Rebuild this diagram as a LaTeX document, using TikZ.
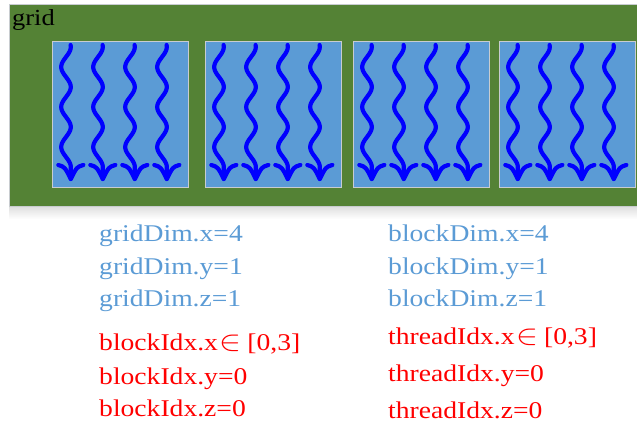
\documentclass[tikz,border=0pt]{standalone}
\usepackage{fontspec}
\setmainfont{Liberation Serif}
\definecolor{gridgreen}{HTML}{548235}
\definecolor{blockblue}{HTML}{5B9BD5}
\definecolor{threadblue}{HTML}{0000FF}
\definecolor{edgegray}{HTML}{C8CCD0}
\definecolor{dimblue}{HTML}{5B9BD5}
\definecolor{idxred}{HTML}{FF0000}
\tikzset{
  gridbox/.style={draw=edgegray, line width=1pt, fill=gridgreen},
  blockbox/.style={draw=edgegray, line width=1.2pt, fill=blockblue},
  thread/.style={draw=threadblue, line width=4.2pt, line cap=round, line join=round},
  dimtext/.style={anchor=base west, inner sep=0pt, text=dimblue, font=\fontsize{24}{28}\selectfont},
  idxtext/.style={anchor=base west, inner sep=0pt, text=idxred, font=\fontsize{24}{28}\selectfont},
  gridlabel/.style={anchor=base west, inner sep=0pt, text=black, font=\fontsize{23}{27}\selectfont},
}
% one wavy thread with its arrow head; #1 = shaft centre x
\newcommand{\threadarrow}[1]{%
  \draw[thread] plot[domain=45:167, samples=60, smooth] ({#1+4.8*cos(9*(\x-87))}, \x)
    -- ({#1+4.8}, 179);
  \draw[thread] ({#1+4.8-12.5}, 165) .. controls ({#1+4.8-6}, 167) .. ({#1+4.8}, 179)
    .. controls ({#1+4.8+6}, 167) .. ({#1+4.8+12.5}, 165);
}
\newcommand{\wrapx}[1]{\scalebox{1.15}[1]{#1}}
\newcommand{\elem}{\hspace{1.5pt}\scalebox{1.15}{$\in$}\hspace{5pt}}
\begin{document}
\begin{tikzpicture}[x=1pt, y=-1pt]
  \useasboundingbox (0,0) rectangle (637,425);
  % soft shadow under the grid
  \shade[top color=black!14, bottom color=white] (9,205) rectangle (637,219);
  \draw[gridbox] (9,5) rectangle (640,206);
  \node[gridlabel] (gridname) at (12,26) {\wrapx{grid}};
  % the four blocks, each with four threads
  \foreach \bx/\nm in {52/b0, 205/b1, 353/b2, 499/b3} {
    \node[blockbox, minimum width=136pt, minimum height=146pt, anchor=north west, inner sep=0pt] (\nm) at (\bx,41) {};
    \foreach \i in {0,1,2,3} {
      \pgfmathsetmacro{\tx}{\bx+14+32*\i}
      \threadarrow{\tx}
    }
  }
  % launch configuration
  \node[dimtext] (gdx) at (99,241) {\wrapx{gridDim.x=4}};
  \node[dimtext] (gdy) at (99,274) {\wrapx{gridDim.y=1}};
  \node[dimtext] (gdz) at (99,306) {\wrapx{gridDim.z=1}};
  \node[idxtext] (bix) at (99,350) {\wrapx{blockIdx.x\elem[0,3]}};
  \node[idxtext] (biy) at (99,384) {\wrapx{blockIdx.y=0}};
  \node[idxtext] (biz) at (99,416) {\wrapx{blockIdx.z=0}};
  \node[dimtext] (bdx) at (388,241) {\wrapx{blockDim.x=4}};
  \node[dimtext] (bdy) at (388,274) {\wrapx{blockDim.y=1}};
  \node[dimtext] (bdz) at (388,306) {\wrapx{blockDim.z=1}};
  \node[idxtext] (tix) at (388,344) {\wrapx{threadIdx.x\elem[0,3]}};
  \node[idxtext] (tiy) at (388,381) {\wrapx{threadIdx.y=0}};
  \node[idxtext] (tiz) at (388,418) {\wrapx{threadIdx.z=0}};
\end{tikzpicture}
\end{document}
